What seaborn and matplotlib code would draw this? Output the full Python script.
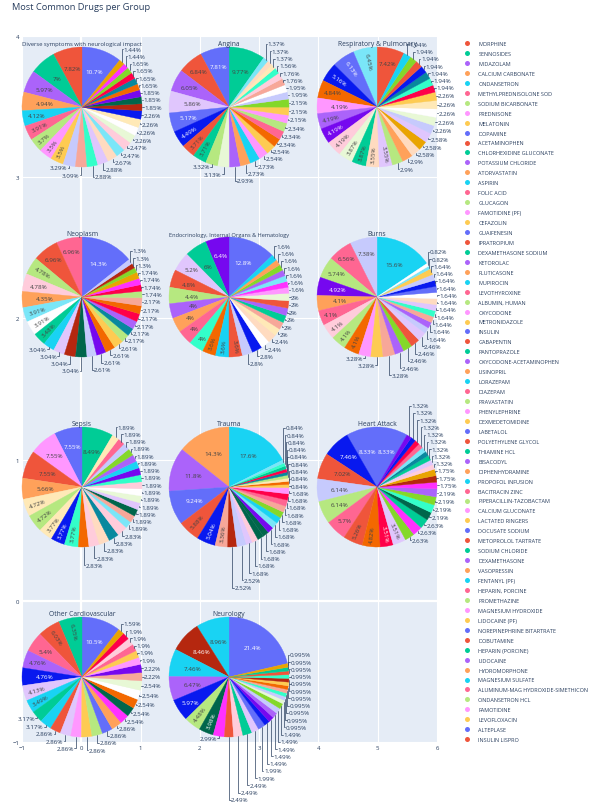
import math
import numpy as np
import pandas as pd
import matplotlib
matplotlib.use("Agg")
import matplotlib.pyplot as plt
from matplotlib.lines import Line2D
import seaborn as sns

# ---------------- data ----------------
title = "Most Common Drugs per Group"
groups = ["Diverse symptoms with neurological impact", "Angina", "Respiratory & Pulmonary",
          "Neoplasm", "Endocrinology, Internal Organs & Hematology", "Burns",
          "Sepsis", "Trauma", "Heart Attack", "Other Cardiovascular", "Neurology"]

pct_diverse = [10.7, 7.82, 7.0, 5.97, 4.94, 4.12, 3.91, 3.7, 3.5, 3.5, 3.29, 3.09, 2.88, 2.88, 2.67,
               2.47, 2.47, 2.26, 2.26, 2.26, 2.26, 1.85, 1.85, 1.85, 1.65, 1.65, 1.65, 1.65, 1.44, 1.44]
pct_angina = [9.77, 7.81, 6.84, 6.05, 5.86, 5.17, 4.49, 3.71, 3.71, 3.32, 3.13, 2.93, 2.73, 2.73, 2.54,
              2.54, 2.34, 2.34, 2.34, 2.15, 2.15, 2.15, 1.95, 1.95, 1.76, 1.76, 1.56, 1.37, 1.37, 1.37]
pct_resp = [7.42, 6.45, 6.13, 5.16, 4.84, 4.19, 4.19, 4.19, 4.19, 3.87, 3.87, 3.55, 3.55, 2.9, 2.9,
            2.58, 2.58, 2.58, 2.26, 2.26, 2.26, 2.26, 2.26, 1.94, 1.94, 1.94, 1.94, 1.94, 1.94, 1.94]
pct_neo = [14.3, 6.96, 6.96, 4.78, 4.78, 4.35, 3.91, 3.91, 3.48, 3.04, 3.04, 3.04, 3.04, 2.61, 2.61,
           2.61, 2.61, 2.17, 2.17, 2.17, 2.17, 2.17, 2.17, 1.74, 1.74, 1.74, 1.74, 1.3, 1.3, 1.3]
pct_endo = [12.8, 6.4, 6.0, 5.2, 4.8, 4.4, 4.0, 4.0, 4.0, 4.0, 3.6, 3.6, 3.6, 2.8, 2.8,
            2.4, 2.4, 2.0, 2.0, 2.0, 2.0, 2.0, 2.0, 1.6, 1.6, 1.6, 1.6, 1.6, 1.6, 1.6]
pct_burns = [15.6, 7.38, 6.56, 5.74, 4.92, 4.1, 4.1, 4.1, 4.1, 4.1, 3.28, 3.28, 3.28, 2.46, 2.46,
             2.46, 2.46, 1.64, 1.64, 1.64, 1.64, 1.64, 1.64, 1.64, 1.64, 1.64, 1.64, 1.64, 0.82, 0.82]
pct_sepsis = [8.49, 7.55, 7.55, 7.55, 5.66, 4.72, 4.72, 3.77, 3.77, 3.77, 2.83, 2.83, 2.83, 2.83, 2.83,
              1.89, 1.89, 1.89, 1.89, 1.89, 1.89, 1.89, 1.89, 1.89, 1.89, 1.89, 1.89, 1.89, 1.89, 1.89]
pct_trauma = [17.6, 14.3, 11.8, 9.24, 5.88, 5.04, 3.36, 2.52, 2.52, 1.68, 1.68, 1.68, 1.68, 1.68, 1.68,
              1.68, 1.68, 1.68, 1.68, 1.68, 1.68, 0.84, 0.84, 0.84, 0.84, 0.84, 0.84, 0.84, 0.84, 0.84]
pct_heart = [8.33, 8.33, 7.46, 7.02, 6.14, 6.14, 5.7, 5.26, 4.82, 3.51, 3.51, 2.63, 2.63, 2.63, 2.19,
             2.19, 2.19, 2.19, 1.75, 1.75, 1.75, 1.32, 1.32, 1.32, 1.32, 1.32, 1.32, 1.32, 1.32, 1.32]
pct_other = [10.5, 6.35, 6.03, 5.4, 4.76, 4.76, 4.13, 3.49, 3.17, 3.17, 2.86, 2.86, 2.86, 2.86, 2.86,
             2.86, 2.86, 2.54, 2.54, 2.54, 2.54, 2.54, 2.22, 2.22, 1.9, 1.9, 1.9, 1.9, 1.9, 1.59]
pct_neuro = [21.4, 8.96, 8.46, 7.46, 6.47, 5.97, 4.48, 3.98, 2.99, 2.49, 2.49, 2.49, 1.99, 1.99, 1.49,
             1.49, 1.49, 1.49, 1.49, 0.995, 0.995, 0.995, 0.995, 0.995, 0.995, 0.995, 0.995, 0.995, 0.995, 0.995]
group_pcts = [pct_diverse, pct_angina, pct_resp, pct_neo, pct_endo, pct_burns,
              pct_sepsis, pct_trauma, pct_heart, pct_other, pct_neuro]

drugs = ["MORPHINE", "SENNOSIDES", "MIDAZOLAM", "CALCIUM CARBONATE", "ONDANSETRON",
         "METHYLPREDNISOLONE SOD", "SODIUM BICARBONATE", "PREDNISONE", "MELATONIN", "DOPAMINE",
         "ACETAMINOPHEN", "CHLORHEXIDINE GLUCONATE", "POTASSIUM CHLORIDE", "ATORVASTATIN", "ASPIRIN",
         "FOLIC ACID", "GLUCAGON", "FAMOTIDINE (PF)", "CEFAZOLIN", "GUAIFENESIN",
         "IPRATROPIUM", "DEXAMETHASONE SODIUM", "KETOROLAC", "FLUTICASONE", "MUPIROCIN",
         "LEVOTHYROXINE", "ALBUMIN, HUMAN", "OXYCODONE", "METRONIDAZOLE", "INSULIN",
         "GABAPENTIN", "PANTOPRAZOLE", "OXYCODONE-ACETAMINOPHEN", "LISINOPRIL", "LORAZEPAM",
         "DIAZEPAM", "PRAVASTATIN", "PHENYLEPHRINE", "DEXMEDETOMIDINE", "LABETALOL",
         "POLYETHYLENE GLYCOL", "THIAMINE HCL", "BISACODYL", "DIPHENHYDRAMINE", "PROPOFOL INFUSION",
         "BACITRACIN ZINC", "PIPERACILLIN-TAZOBACTAM", "CALCIUM GLUCONATE", "LACTATED RINGERS", "DOCUSATE SODIUM",
         "METOPROLOL TARTRATE", "SODIUM CHLORIDE", "DEXAMETHASONE", "VASOPRESSIN", "FENTANYL (PF)",
         "HEPARIN, PORCINE", "PROMETHAZINE", "MAGNESIUM HYDROXIDE", "LIDOCAINE (PF)", "NOREPINEPHRINE BITARTRATE",
         "DOBUTAMINE", "HEPARIN (PORCINE)", "LIDOCAINE", "HYDROMORPHONE", "MAGNESIUM SULFATE",
         "ALUMINUM-MAG HYDROXIDE-SIMETHICON", "ONDANSETRON HCL", "FAMOTIDINE", "LEVOFLOXACIN", "ALTEPLASE",
         "INSULIN LISPRO"]

x_ticks = [-1, 0, 1, 2, 3, 4, 5, 6]
y_ticks = [-1, 0, 1, 2, 3, 4]

# ---------------- style ----------------
base_hex = ["#636EFA", "#EF553B", "#00CC96", "#AB63FA", "#FFA15A", "#19D3F3", "#FF6692", "#B6E880", "#FF97FF", "#FECB52"]
light_hex = ["#C6CAFD", "#F7A799", "#33FFC9", "#E0C6FD", "#FFDBC0", "#7AE6F8", "#FFCCDB", "#E8F8D6", "#FFFEFF", "#FFE9B7"]
dark_hex = ["#0819EF", "#B5270F", "#00664B", "#7608EF", "#F36800", "#08889E", "#FF0049", "#84D82A", "#FF31FF", "#E9A401"]
PAL = sns.color_palette(base_hex + light_hex + dark_hex).as_hex()

# palette index of every slice (pie order)
slice_colors = [
    list(range(30)),
    [2, 0, 1, 3, 13, 0, 20, 1, 2, 7, 17, 3, 4, 5, 8, 9, 24, 6, 7, 8, 9, 27, 10, 18, 11, 16, 12, 19, 14, 15],
    [1, 15, 0, 20, 24, 8, 3, 23, 16, 17, 2, 14, 13, 7, 4, 14, 29, 13, 10, 17, 18, 19, 9, 26, 12, 25, 20, 1, 27, 5],
    [0, 6, 1, 7, 16, 4, 15, 18, 2, 5, 13, 21, 22, 10, 23, 24, 9, 7, 25, 3, 26, 24, 11, 7, 26, 28, 29, 27, 21, 10],
    [0, 23, 2, 13, 1, 7, 3, 4, 6, 12, 24, 5, 1, 10, 20, 18, 14, 19, 11, 2, 3, 1, 17, 8, 28, 15, 3, 27, 4, 5],
    [5, 10, 6, 7, 23, 4, 6, 16, 7, 24, 8, 9, 11, 3, 27, 1, 13, 10, 3, 11, 12, 13, 14, 18, 0, 20, 10, 9, 15, 18],
    [2, 0, 8, 1, 4, 19, 7, 19, 20, 12, 24, 16, 14, 25, 16, 15, 11, 22, 13, 17, 18, 16, 12, 23, 5, 3, 27, 10, 6, 19],
    [5, 4, 3, 0, 1, 20, 11, 21, 10, 13, 16, 22, 22, 23, 15, 5, 27, 11, 6, 26, 8, 9, 24, 19, 7, 25, 26, 2, 12, 15],
    [0, 0, 20, 1, 10, 7, 6, 1, 24, 26, 13, 27, 28, 2, 22, 12, 27, 3, 28, 21, 29, 16, 13, 2, 25, 15, 6, 26, 20, 23],
    [0, 2, 1, 6, 3, 20, 13, 5, 2, 5, 1, 13, 8, 9, 7, 0, 4, 28, 22, 24, 18, 17, 11, 23, 8, 9, 6, 16, 26, 29],
    [0, 5, 21, 5, 3, 20, 7, 22, 28, 1, 16, 2, 13, 0, 20, 23, 3, 10, 27, 17, 10, 12, 11, 24, 9, 21, 12, 1, 2, 29],
]

W, H, DPI = 591, 803, 100
TXT = "#2a3f5f"
R = 60.0
pie_cx = [82, 229, 377, 82, 229, 377, 82, 229, 377, 82, 229]
pie_cy = [108, 108, 108, 298, 298, 298, 488, 488, 488, 678, 678]
PIE_FS = 4.5
TITLE_FS = 4.9
INSIDE_MIN = 3.34
EM = PIE_FS * DPI / 72.0 / R
DY = 0.121

sns.set_theme(style="darkgrid", rc={"axes.facecolor": "#E5ECF6", "grid.color": "white",
                                    "grid.linewidth": 0.8, "figure.facecolor": "white"})
plt.rcParams["font.family"] = ["Open Sans", "DejaVu Sans"]

fig = plt.figure(figsize=(W / DPI, H / DPI), dpi=DPI)
renderer = fig.canvas.get_renderer()

# background cartesian axes
bg = fig.add_axes([22 / W, 1 - 743 / H, 415 / W, 706 / H])
sns.despine(ax=bg, left=True, bottom=True)
bg.set_xlim(-1, 6)
bg.set_ylim(-1, 4)
bg.set_xticks(x_ticks)
bg.set_yticks(y_ticks)
bg.tick_params(length=0, labelsize=4.3, labelcolor=TXT, pad=2)
bg.axvline(0, color="white", lw=1.6, zorder=0.6)
bg.axhline(0, color="white", lw=1.6, zorder=0.6)

fig.text(12 / W, 1 - 10.5 / H, title, fontsize=6.7, color=TXT, ha="left", va="baseline")

CW = {".": 0.266, "%": 0.846}


def text_w(s):
    return sum(CW.get(c, 0.572) for c in s) * EM


def in_wedge(x, y, a0, a1):
    ang = math.degrees(math.atan2(y, x))
    rel = (ang - a0) % 360
    return 1.0 <= rel <= (a1 - a0) - 1.0


def brightness(h):
    r, g, b = int(h[1:3], 16), int(h[3:5], 16), int(h[5:7], 16)
    return (r * 299 + g * 587 + b * 114) / 1000


def inside_label(ax, a0, a1, txt, col):
    mid = math.radians((a0 + a1) / 2)
    w, h = text_w(txt), 0.8 * EM
    tc = "#444444" if brightness(col) >= 128 else "white"
    for d in (0.62, 0.66, 0.70, 0.74, 0.78, 0.82, 0.58, 0.54, 0.50, 0.45, 0.40):
        px, py = d * math.cos(mid), d * math.sin(mid)
        ok = True
        for dx in (-w / 2, w / 2):
            for dy in (-h / 2, h / 2):
                x, y = px + dx, py + dy
                if math.hypot(x, y) > 0.95 or not in_wedge(x, y, a0, a1):
                    ok = False
        if ok:
            ax.text(px, py, txt, ha="center", va="center", fontsize=PIE_FS, color=tc)
            return
    rot = math.degrees(mid) % 360
    if 90 < rot <= 270:
        rot -= 180
    elif rot > 270:
        rot -= 360
    d = 0.93 - w / 2
    ax.text(d * math.cos(mid), d * math.sin(mid), txt, ha="center", va="center",
            rotation=rot, rotation_mode="anchor", fontsize=PIE_FS, color=tc)


def draw_pie(k):
    pcts = group_pcts[k]
    cols = [PAL[i] for i in slice_colors[k]]
    cx, cy = pie_cx[k], pie_cy[k]
    ax = fig.add_axes([(cx - R) / W, 1 - (cy + R) / H, 2 * R / W, 2 * R / H])
    tot = sum(pcts)
    start = 90 - pcts[0] / tot * 360
    wedges, _ = ax.pie(pcts, colors=cols, startangle=start, counterclock=True, radius=1,
                       wedgeprops=dict(linewidth=0.25))
    for wdg, c in zip(wedges, cols):
        wdg.set_edgecolor(c)
    ax.set_xlim(-1, 1)
    ax.set_ylim(-1, 1)
    ax.axis("off")

    outs = []
    a = start
    for v, c in zip(pcts, cols):
        span = v / tot * 360
        a0, a1 = a, a + span
        a = a1
        txt = f"{v:.3g}%"
        if v >= INSIDE_MIN:
            inside_label(ax, a0, a1, txt, c)
        else:
            m = math.radians((a0 + a1) / 2)
            outs.append({"c": math.cos(m), "s": math.sin(m), "txt": txt, "ny": 1.04 * math.sin(m)})

    right = [o for o in outs if o["c"] >= 0]
    left = [o for o in outs if o["c"] < 0]
    for side in (right, left):
        top = sorted([o for o in side if o["ny"] >= 0], key=lambda o: o["ny"])
        bot = sorted([o for o in side if o["ny"] < 0], key=lambda o: -o["ny"])
        prev = None
        for o in top:
            o["y"] = o["ny"] if prev is None else max(o["ny"], prev + DY)
            prev = o["y"]
        prev = top[0]["y"] if top else None
        for o in bot:
            o["y"] = o["ny"] if prev is None else min(o["ny"], prev - DY)
            prev = o["y"]
    for o in outs:
        sgn = 1 if o["c"] >= 0 else -1
        xt = o["c"] + sgn * 0.035
        ax.plot([o["c"], o["c"], xt - sgn * 0.008], [o["s"], o["y"], o["y"]], color=TXT,
                lw=0.5, clip_on=False, solid_joinstyle="miter")
        ax.text(xt, o["y"], o["txt"], ha="left" if sgn > 0 else "right", va="center",
                fontsize=PIE_FS, color=TXT, clip_on=False)

    t = ax.text(0, 1.05, groups[k], ha="center", va="center", fontsize=TITLE_FS, color=TXT)
    wpx = t.get_window_extent(renderer=renderer).width
    if wpx > 2 * R:
        t.set_fontsize(TITLE_FS * 2 * R / wpx)


for k in range(len(groups)):
    draw_pie(k)

# legend (colours cycle through the base palette)
leg_cols = [base_hex[(i + 1) % 10] for i in range(len(drugs))]
handles = [Line2D([], [], ls="", marker="o", markersize=3.6, markerfacecolor=c, markeredgewidth=0)
           for c in leg_cols]
fig.legend(handles, drugs, loc="upper left", bbox_to_anchor=(464.5 / W, 1 - 42.0 / H),
           frameon=False, fontsize=4.0, labelspacing=0.89, handlelength=1.0, handleheight=0.7,
           handletextpad=1.48, borderpad=0, borderaxespad=0, labelcolor=TXT)

fig.savefig("out.png", dpi=DPI)
